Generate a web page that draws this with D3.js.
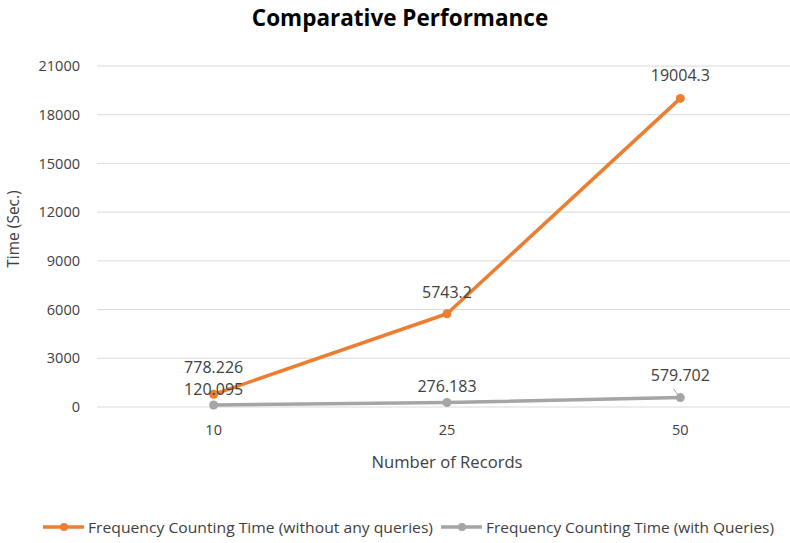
<!DOCTYPE html>
<html><head><meta charset="utf-8">
<script src="https://cdn.jsdelivr.net/npm/d3@7"></script>
<style>body{margin:0;background:#fff;} svg{display:block;}</style>
</head><body>
<svg id="c" width="790" height="543"></svg>
<script>
const categories = ["10", "25", "50"];
const seriesNames = ["Frequency Counting Time (without any queries)", "Frequency Counting Time (with Queries)"];
const withoutQueries = [778.226, 5743.2, 19004.3];
const withQueries = [120.095, 276.183, 579.702];
const yTicks = [0, 3000, 6000, 9000, 12000, 15000, 18000, 21000];
const colors = ["#ED7D31", "#A5A5A5"];

(function () {
const svg = d3.select("#c");
const pLeft = 97, pRight = 797, pTop = 66, pBottom = 407;
const x = d3.scaleBand().domain(categories).range([pLeft, pRight]);
const y = d3.scaleLinear().domain([0, 21000]).range([pBottom, pTop]);
const cx = d => x(d) + x.bandwidth() / 2;
const font = "'Open Sans', 'Liberation Sans', sans-serif";
const txt = "#404040";

svg.append("text").attr("x", 400).attr("y", 26).attr("text-anchor", "middle")
  .attr("font-family", font).attr("font-weight", "bold").attr("font-size", 22.5)
  .attr("fill", "#000").text("Comparative Performance");

svg.append("g").selectAll("line").data(yTicks).join("line")
  .attr("x1", pLeft).attr("x2", 790).attr("y1", d => y(d)).attr("y2", d => y(d))
  .attr("stroke", "#D9D9D9").attr("stroke-width", 1);

const ya = svg.append("g").attr("transform", `translate(${pLeft - 17},0)`)
  .call(d3.axisLeft(y).tickValues(yTicks).tickSize(0).tickPadding(0).tickFormat(d3.format("d")));
ya.select(".domain").remove();
ya.selectAll("text").attr("font-family", font).attr("font-size", 14.5).attr("fill", txt);

const xa = svg.append("g").attr("transform", `translate(0,${pBottom + 23})`)
  .call(d3.axisBottom(x).tickSize(0).tickPadding(0));
xa.select(".domain").remove();
xa.selectAll("text").attr("font-family", font).attr("font-size", 14.5).attr("fill", txt).attr("dy", "0.35em");

svg.append("text").attr("transform", "translate(19,229) rotate(-90)").attr("text-anchor", "middle")
  .attr("font-family", font).attr("font-size", 15.5).attr("fill", txt).text("Time (Sec.)");
svg.append("text").attr("x", 447).attr("y", 468).attr("text-anchor", "middle")
  .attr("font-family", font).attr("font-size", 16).attr("fill", txt)
  .attr("textLength", 151).attr("lengthAdjust", "spacingAndGlyphs").text("Number  of Records");

const series = [withoutQueries, withQueries];
const line = d3.line().x((d, i) => cx(categories[i])).y(d => y(d));
series.forEach((s, k) => {
  svg.append("path").datum(s).attr("d", line).attr("fill", "none")
    .attr("stroke", colors[k]).attr("stroke-width", 3.5).attr("stroke-linejoin", "round");
  svg.append("g").selectAll("circle").data(s).join("circle")
    .attr("cx", (d, i) => cx(categories[i])).attr("cy", d => y(d)).attr("r", 4.5).attr("fill", colors[k]);
});

const lblOffsets = [[[0, -21], [0, -16], [0, -17]], [[0, -10], [0, -11], [0, -17]]];
series.forEach((s, k) => {
  svg.append("g").selectAll("text").data(s).join("text")
    .attr("x", (d, i) => cx(categories[i]) + lblOffsets[k][i][0])
    .attr("y", (d, i) => y(d) + lblOffsets[k][i][1])
    .attr("text-anchor", "middle").attr("font-family", font).attr("font-size", 16).attr("fill", txt)
    .text(d => String(d));
});
svg.append("line").attr("x1", cx("50") - 7).attr("y1", y(withQueries[2]) - 9)
  .attr("x2", cx("50") - 1).attr("y2", y(withQueries[2]) - 1).attr("stroke", "#A5A5A5").attr("stroke-width", 1);

const legend = [{x: 43, tx: 88, w: 345}, {x: 441, tx: 486, w: 288}];
legend.forEach((l, k) => {
  const g = svg.append("g");
  g.append("line").attr("x1", l.x).attr("x2", l.x + 41).attr("y1", 527).attr("y2", 527)
    .attr("stroke", colors[k]).attr("stroke-width", 3.5);
  g.append("circle").attr("cx", l.x + 21).attr("cy", 527).attr("r", 4).attr("fill", colors[k]);
  g.append("text").attr("x", l.tx).attr("y", 533).attr("font-family", font).attr("font-size", 15)
    .attr("fill", txt).attr("textLength", l.w).attr("lengthAdjust", "spacingAndGlyphs")
    .text(seriesNames[k]);
});
})();
</script>
</body></html>
